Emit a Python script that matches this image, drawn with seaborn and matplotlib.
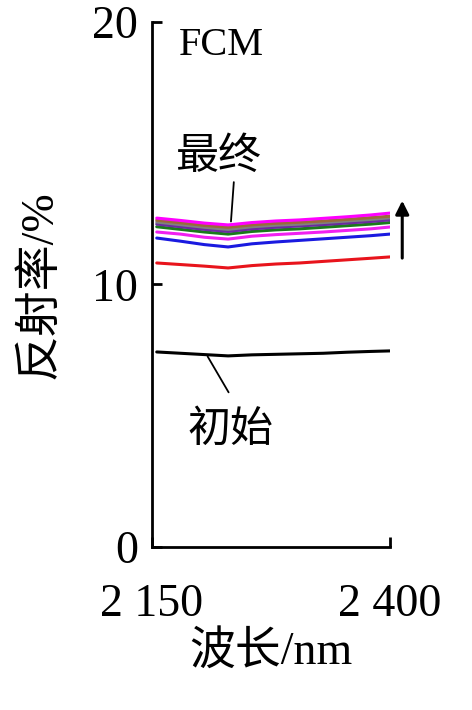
import matplotlib
matplotlib.use("Agg")
import matplotlib.pyplot as plt
import seaborn as sns
import pandas as pd

sns.set_style("ticks")
plt.rcParams["font.family"] = ["Liberation Serif", "Noto Sans CJK SC"]
plt.rcParams["axes.unicode_minus"] = False
plt.rcParams["text.color"] = "black"
plt.rcParams["xtick.color"] = "black"
plt.rcParams["ytick.color"] = "black"
plt.rcParams["axes.labelcolor"] = "black"
plt.rcParams["axes.edgecolor"] = "black"

wavelength = [2155, 2180, 2205, 2230, 2255, 2280, 2305, 2330, 2355, 2380, 2400]

# reflectance (%) per measurement, initial -> final
initial = [7.43, 7.38, 7.33, 7.28, 7.32, 7.34, 7.36, 7.38, 7.42, 7.45, 7.47]
red = [10.82, 10.76, 10.70, 10.63, 10.72, 10.78, 10.82, 10.88, 10.94, 11.00, 11.05]
blue = [11.77, 11.65, 11.52, 11.43, 11.55, 11.62, 11.68, 11.74, 11.80, 11.86, 11.92]
magenta_low = [12.00, 11.92, 11.80, 11.73, 11.84, 11.90, 11.95, 12.00, 12.06, 12.12, 12.19]
green = [12.20, 12.10, 12.00, 11.92, 12.02, 12.08, 12.12, 12.18, 12.24, 12.30, 12.36]
purple = [12.30, 12.20, 12.10, 12.02, 12.12, 12.18, 12.23, 12.28, 12.34, 12.40, 12.46]
gray = [12.38, 12.28, 12.18, 12.10, 12.20, 12.26, 12.30, 12.36, 12.42, 12.48, 12.54]
brown = [12.45, 12.35, 12.25, 12.18, 12.27, 12.33, 12.37, 12.42, 12.48, 12.55, 12.60]
final = [12.53, 12.44, 12.34, 12.27, 12.36, 12.42, 12.46, 12.52, 12.58, 12.65, 12.72]

series = {
    "initial": (initial, "black"),
    "red": (red, "#e8141c"),
    "blue": (blue, "#1a1ae0"),
    "magenta_low": (magenta_low, "#f020f0"),
    "green": (green, "#1a7a1a"),
    "purple": (purple, "#6a2aa0"),
    "gray": (gray, "#808080"),
    "brown": (brown, "#9a6a3a"),
    "final": (final, "#ff00ff"),
}

rows = []
for name, (vals, _) in series.items():
    for w, v in zip(wavelength, vals):
        rows.append({"wavelength": w, "reflectance": v, "run": name})
df = pd.DataFrame(rows)
palette = {k: c for k, (_, c) in series.items()}

fig = plt.figure(figsize=(4.72, 7.10), dpi=100)
ax = fig.add_axes([0.322, 0.2296, 0.504, 0.7394])
sns.lineplot(data=df, x="wavelength", y="reflectance", hue="run",
             palette=palette, linewidth=2.2, legend=False, ax=ax)

ax.set_xlim(2150, 2400)
ax.set_ylim(0, 20)
ax.set_xticks([2150, 2400], ["2 150", "2 400"])
ax.set_yticks([0, 10, 20])
ax.tick_params(direction="in", length=7, width=2, labelsize=33)
ax.tick_params(axis="x", pad=26)
ax.tick_params(axis="y", pad=10)
for s in ["top", "right"]:
    ax.spines[s].set_visible(False)
for s in ["left", "bottom"]:
    ax.spines[s].set_linewidth(2)
ax.set_xlabel("波长/nm", fontsize=33, labelpad=4)
ax.set_ylabel("反射率/%", fontsize=33, labelpad=22)

ax.text(2178, 19.1, "FCM", fontsize=29, va="center")
ax.text(2220, 14.8, "最终", fontsize=31, ha="center", va="center")
ax.plot([2236, 2233], [13.9, 12.4], color="black", lw=1.3)
ax.text(2232, 4.4, "初始", fontsize=31, ha="center", va="center")
ax.annotate("", xy=(2207, 7.35), xytext=(2232, 5.8),
            arrowprops=dict(arrowstyle="-", color="black", lw=1.3))
ax.annotate("", xy=(2413, 13.3), xytext=(2413, 10.9), annotation_clip=False,
            arrowprops=dict(arrowstyle="-|>", color="black", lw=2.2, mutation_scale=20))

fig.savefig("out.png", dpi=100)
